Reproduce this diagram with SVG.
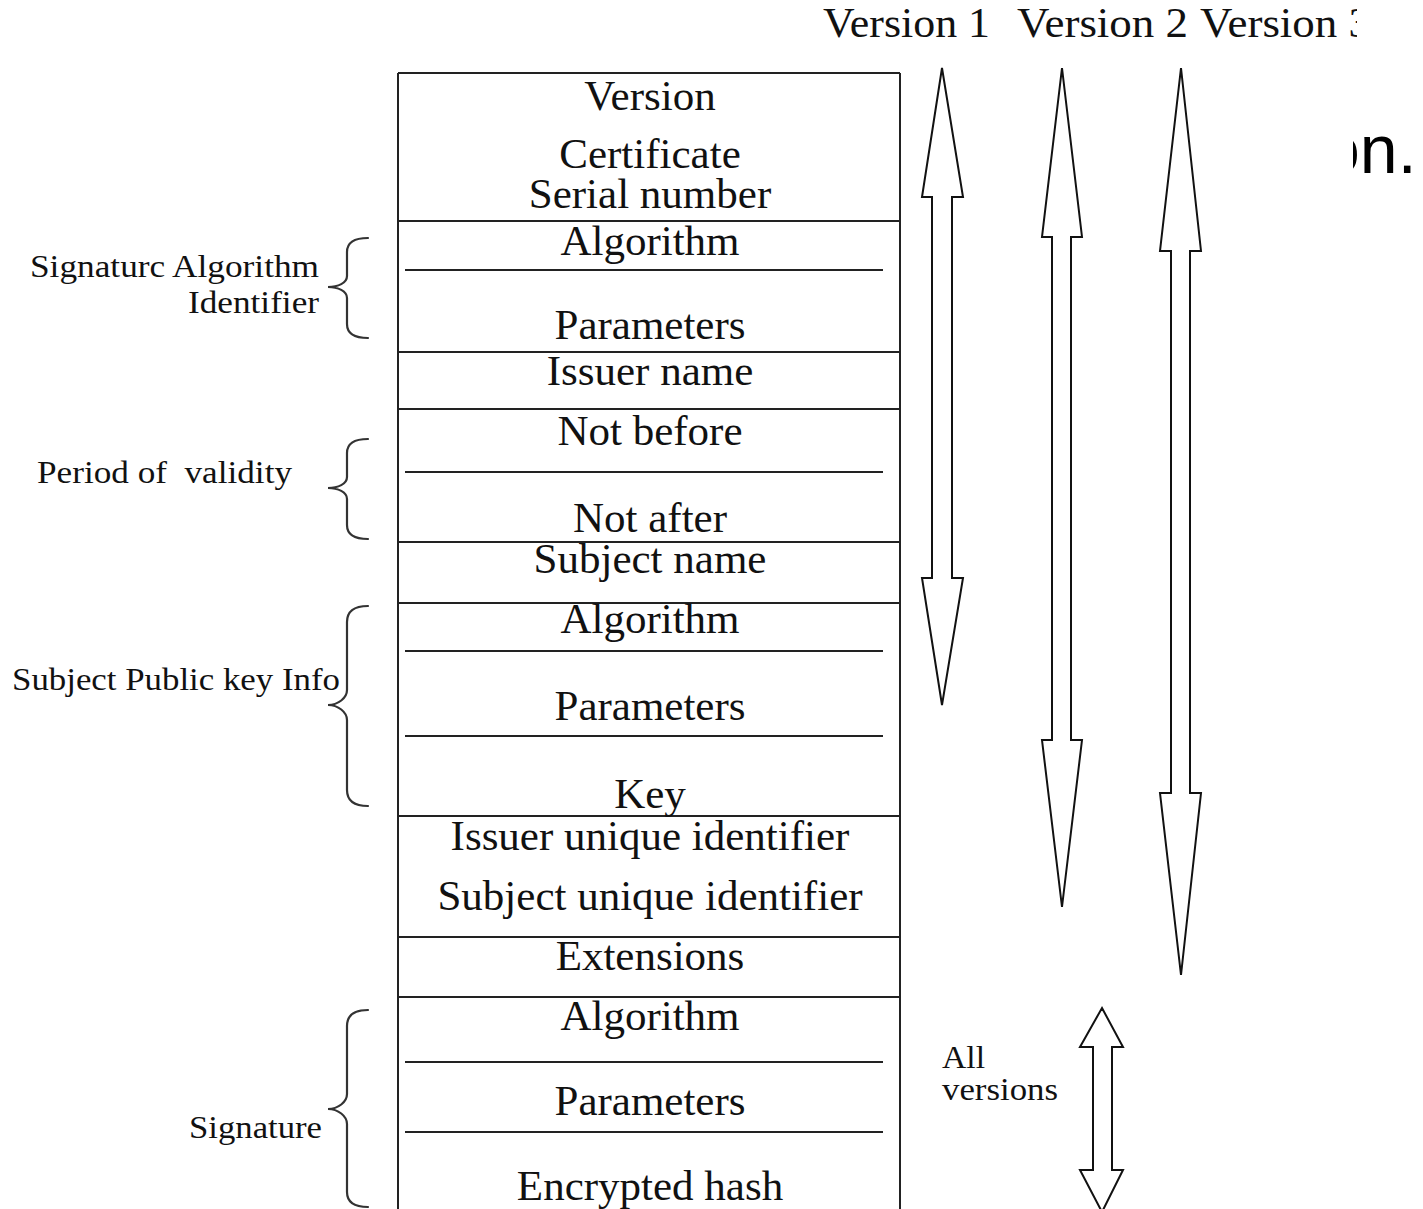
<svg xmlns="http://www.w3.org/2000/svg" width="1423" height="1209" viewBox="0 0 1423 1209">
  <style>
    .field { font-family: "Liberation Serif", "Times New Roman", serif; font-size: 43px; fill: #111; text-anchor: middle; }
    .label { font-family: "Liberation Serif", "Times New Roman", serif; font-size: 32px; fill: #111; white-space: pre; }
    .ver { font-family: "Liberation Serif", "Times New Roman", serif; font-size: 42px; fill: #111; }
    .slide { font-family: "Liberation Sans", Arial, sans-serif; font-size: 68px; fill: #000; }
    .rule { stroke: #222; stroke-width: 2; fill: none; }
    .brace { stroke: #333; stroke-width: 2.2; fill: none; stroke-linecap: round; }
    .arrow { stroke: #111; stroke-width: 2; fill: #fff; stroke-linejoin: miter; }
  </style>
  <defs>
    <clipPath id="leftPart"><rect x="0" y="0" width="1357" height="1209"/></clipPath>
    <clipPath id="rightPart"><rect x="1353" y="0" width="70" height="1209"/></clipPath>
  </defs>
  <rect width="1423" height="1209" fill="#fff"/>

  <!-- version headings -->
  <g id="versions" clip-path="url(#leftPart)">
    <text class="ver" x="823" y="37" textLength="167" lengthAdjust="spacingAndGlyphs">Version 1</text>
    <text class="ver" x="1017" y="37" textLength="171" lengthAdjust="spacingAndGlyphs">Version 2</text>
    <text class="ver" x="1200" y="37" textLength="171" lengthAdjust="spacingAndGlyphs">Version 3</text>
  </g>
  <g id="slide-text" clip-path="url(#rightPart)">
    <text class="slide" x="1322" y="173">on.</text>
  </g>

  <!-- certificate structure -->
  <g id="certificate">
    <path class="rule" d="M398,73 H900 M398,73 V1209 M900,73 V1209"/>
    <path class="rule" d="M398,221 H900 M398,352 H900 M398,409 H900 M398,542 H900 M398,603 H900 M398,816 H900 M398,937 H900 M398,997 H900"/>
    <path class="rule" d="M405,270 H883 M405,472 H883 M405,651 H883 M405,736 H883 M405,1062 H883 M405,1132 H883"/>
  </g>
  <g id="field-version"><text class="field" x="650" y="110">Version</text></g>
  <g id="field-serial">
    <text class="field" x="650" y="168">Certificate</text>
    <text class="field" x="650" y="208">Serial number</text>
  </g>
  <g id="field-sigalg">
    <text class="field" x="650" y="255">Algorithm</text>
    <text class="field" x="650" y="339">Parameters</text>
  </g>
  <g id="field-issuer"><text class="field" x="650" y="385">Issuer name</text></g>
  <g id="field-validity">
    <text class="field" x="650" y="445">Not before</text>
    <text class="field" x="650" y="532">Not after</text>
  </g>
  <g id="field-subject"><text class="field" x="650" y="573">Subject name</text></g>
  <g id="field-pubkey">
    <text class="field" x="650" y="633">Algorithm</text>
    <text class="field" x="650" y="720">Parameters</text>
    <text class="field" x="650" y="808">Key</text>
  </g>
  <g id="field-uids">
    <text class="field" x="650" y="850">Issuer unique identifier</text>
    <text class="field" x="650" y="910">Subject unique identifier</text>
  </g>
  <g id="field-extensions"><text class="field" x="650" y="970">Extensions</text></g>
  <g id="field-signature">
    <text class="field" x="650" y="1030">Algorithm</text>
    <text class="field" x="650" y="1115">Parameters</text>
    <text class="field" x="650" y="1200">Encrypted hash</text>
  </g>

  <!-- group labels with braces -->
  <g id="label-sigalg">
    <text class="label" x="30" y="277" textLength="289" lengthAdjust="spacingAndGlyphs">Signaturc Algorithm</text>
    <text class="label" x="188" y="313" textLength="131" lengthAdjust="spacingAndGlyphs">Identifier</text>
    <path class="brace" d="M368,238 C355,238 347,242 347,252 L347,276 C347,283 338,287 328,287 C338,287 347,291 347,298 L347,324 C347,334 355,338 368,338"/>
  </g>
  <g id="label-validity">
    <text class="label" x="37" y="483" textLength="255" lengthAdjust="spacingAndGlyphs">Period of  validity</text>
    <path class="brace" d="M368,439 C355,439 347,443 347,453 L347,477 C347,484 338,488 328,488 C338,488 347,492 347,499 L347,525 C347,535 355,539 368,539"/>
  </g>
  <g id="label-pubkey">
    <text class="label" x="12" y="690" textLength="328" lengthAdjust="spacingAndGlyphs">Subject Public key Info</text>
    <path class="brace" d="M368,606 C355,606 347,610 347,622 L347,690 C347,698 338,705 328,705 C338,705 347,712 347,720 L347,790 C347,802 355,806 368,806"/>
  </g>
  <g id="label-signature">
    <text class="label" x="189" y="1138" textLength="133" lengthAdjust="spacingAndGlyphs">Signature</text>
    <path class="brace" d="M368,1010 C355,1010 347,1014 347,1026 L347,1094 C347,1102 338,1109 328,1109 C338,1109 347,1116 347,1124 L347,1192 C347,1203 355,1207 368,1207"/>
  </g>
  <g id="label-all">
    <text class="label" x="942" y="1068" textLength="43" lengthAdjust="spacingAndGlyphs">All</text>
    <text class="label" x="942" y="1100" textLength="116" lengthAdjust="spacingAndGlyphs">versions</text>
  </g>

  <!-- version coverage arrows -->
  <g id="connectors">
    <polygon class="arrow" points="942,68 963,197 952,197 952,578 963,578 942,705 922,578 932,578 932,197 922,197"/>
    <polygon class="arrow" points="1062,68 1082,237 1071,237 1071,740 1082,740 1062,907 1042,740 1052,740 1052,237 1042,237"/>
    <polygon class="arrow" points="1181,68 1201,251 1190,251 1190,793 1201,793 1181,975 1160,793 1171,793 1171,251 1160,251"/>
    <polygon class="arrow" points="1102,1008 1123,1047 1112,1047 1112,1170 1123,1170 1102,1212 1080,1170 1093,1170 1093,1047 1080,1047"/>
  </g>
</svg>
